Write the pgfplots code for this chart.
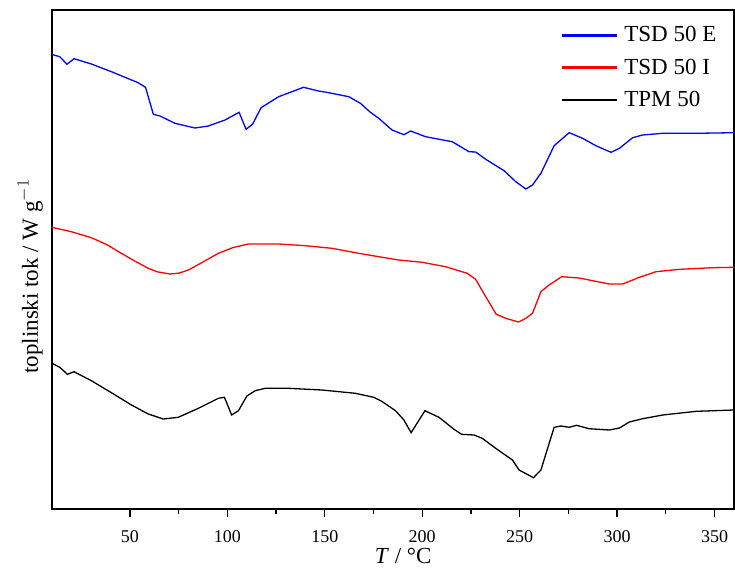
\documentclass[border=0pt]{standalone}
\usepackage{pgfplots}
\pgfplotsset{compat=1.18}
\usepackage{fontspec}
\setmainfont{Liberation Serif}

\begin{document}
\begin{tikzpicture}
\begin{axis}[
    scale only axis,
    width=682pt,
    height=499pt,
    xmin=10, xmax=360,
    ymin=10, ymax=509,
    y dir=reverse,
    xtick={50,100,150,200,250,300,350},
    minor x tick num=1,
    ytick=\empty,
    xtick pos=bottom,
    tick align=outside,
    major tick length=8pt,
    minor tick length=5pt,
    axis line style={line width=1.2pt},
    every tick/.style={black, line width=1.2pt},
    /pgf/number format/assume math mode=true,
    tick label style={font=\fontsize{18}{20}\selectfont},
    xticklabel style={yshift=-10pt},
    xlabel={\textit{T} / °C},
    ylabel={toplinski tok / W g$^{-1}$},
    label style={font=\fontsize{23}{25}\selectfont},
    xlabel style={at={(axis description cs:0.515,-0.094)}, anchor=center},
    ylabel style={at={(axis description cs:-0.032,0.466)}, anchor=center},
    legend style={draw=none, fill=none, at={(axis description cs:0.743,0.975)}, anchor=north west,
        font=\fontsize{23}{25}\selectfont, row sep=11.5pt, cells={anchor=west},
        /tikz/every odd column/.append style={column sep=6pt}},
    legend image code/.code={\fill[#1] (0pt,-0.7pt) rectangle (54pt,0.7pt);},
]

\addlegendimage{blue}
\addlegendimage{red}
\addlegendimage{black}

% TSD 50 E
\addplot[blue, line width=1.3pt, forget plot] coordinates {
    (10,54.5)(14,56.7)(17.7,64.3)(21.3,58.7)(30.2,64)(40.5,71.7)(54.2,82.7)(58,87.3)
    (62,114.3)(65.4,116)(73.1,123.3)(83.4,128)(90.2,126)(98.8,120)(106,112.3)(109.6,129.3)
    (113,124)(117.3,107.7)(126.3,96.7)(139.1,87.3)(146.8,91)(152,92.7)(162.3,96.7)
    (168.3,103.3)(173.4,112.3)(177.7,118.3)(184.5,130)(190.6,134.7)(194,131)(201.7,136.7)
    (215.4,141.7)(224,151.7)(227.4,152)(232.6,159.3)(242,170.7)(248,181.7)(253.2,189)
    (256.6,185)(260.9,173.3)(267.7,145.7)(275.4,132.7)(282.3,138.3)(289.1,145.7)
    (296.9,152.3)(301.2,148.3)(308,137.7)(313.1,135)(323.4,133.3)(340.6,133.3)(360,132.7)
};

% TSD 50 I
\addplot[red, line width=1.3pt, forget plot] coordinates {
    (10,227.3)(19.9,231.7)(30.2,237.7)(38,244.5)(45.6,253.3)(52,260.5)(59.4,268.3)(64,271.8)
    (70.5,274)(75,273.2)(80,270)(87,262.5)(95.4,253.3)(103,247.5)(110.8,244)(126.3,244)
    (140,245.7)(153.7,248.3)(167.4,253.3)(177.7,256.7)
    (188,260)(200,262.3)(212,266.7)(223.1,273.3)(227.4,279.3)(232.6,296.7)(238,314.3)
    (242.9,318.3)(249.4,322)(253.2,318.3)(256.6,313.3)(260.9,291.7)(265.1,285)
    (271.6,276.7)(280.6,278)(287.4,280.7)(296,284)(302.9,284)(311.4,277.3)(320,271.7)
    (332,269.3)(349.1,267.7)(360,267.3)
};

% TPM 50
\addplot[black, line width=1.3pt, forget plot] coordinates {
    (10,363.3)(14,367.3)(17.9,374.3)(21.3,371.7)(30.2,380.7)(40.5,392.7)(50.8,405)
    (59.4,414)(67.1,419)(74.8,417.3)(85.1,408.3)(95.4,398.3)(98.5,397.3)(102.2,415)
    (105.7,410.7)(110,396)(114.3,390.7)(119.4,388.3)(131.4,388.3)(148.5,390)(165.7,393.3)
    (175.1,397.3)(179,401)(186.3,410.7)(190.6,420)(194.3,432.7)(201.4,410.7)(208.6,417.3)
    (216.3,429.3)(220.2,434.3)(226.6,435)(230.8,438.3)(237.7,448.3)(246.3,460)(249.7,470)
    (257.1,477.7)(260.9,470)(267.7,427.3)(271.2,426)(275.4,427.3)(279.2,425.3)(285.7,428.7)
    (296,430)(301.2,428)(306.3,422)(313.1,418.7)(323.4,415)(340.6,411.3)(360,410)
};

\legend{TSD 50 E, TSD 50 I, TPM 50}
\end{axis}
\pgfresetboundingbox
\path[use as bounding box] ([xshift=-52pt,yshift=-64pt]current axis.south west)
    rectangle ([xshift=1pt,yshift=10pt]current axis.north east);
\end{tikzpicture}
\end{document}
